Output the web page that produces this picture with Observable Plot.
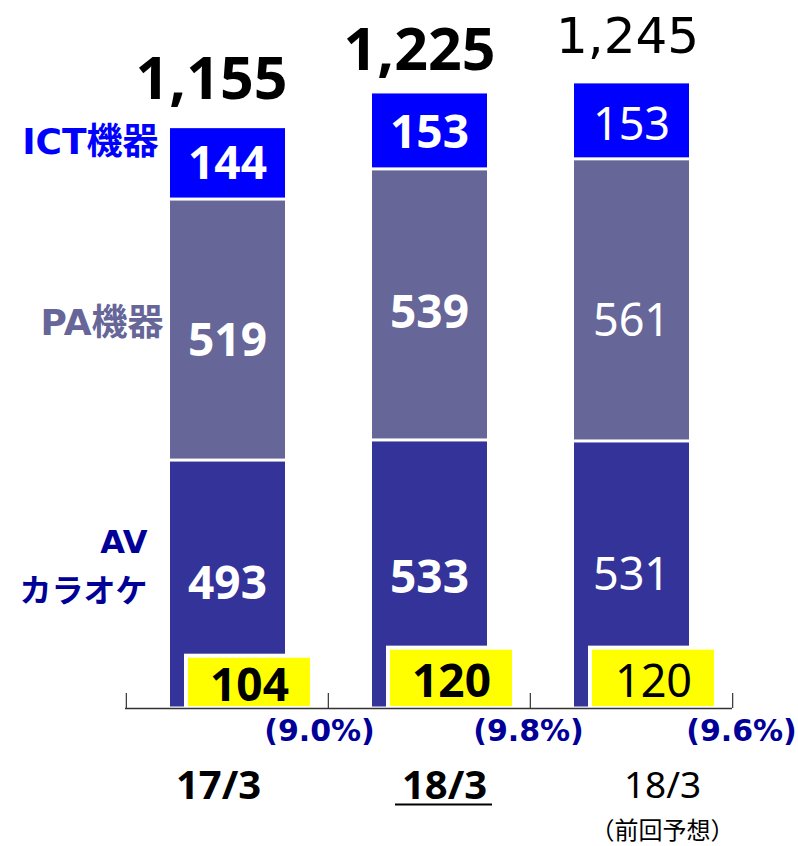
<!DOCTYPE html>
<html><head><meta charset="utf-8">
<script src="https://cdn.jsdelivr.net/npm/d3@7"></script>
<script src="https://cdn.jsdelivr.net/npm/@observablehq/plot@0.6"></script>
<style>body{margin:0;background:#fff}</style>
</head><body><div id="chart"></div>
<script>
// ---- data ----
const periods = ["17/3", "18/3", "18/3 前回予想"];
const periodLabels = ["17/3", "18/3", "18/3"];
const periodNotes = ["", "", "（前回予想）"];
const seriesNames = ["AV\nカラオケ", "PA機器", "ICT機器"];
const avKaraoke = [493, 533, 531];
const paEquip = [519, 539, 561];
const ictEquip = [144, 153, 153];
const totals = [1155, 1225, 1245];
const opProfit = [104, 120, 120];
const opMargin = [9.0, 9.8, 9.6];

// ---- styles (kept apart from data) ----
const seriesColors = ["#333399", "#666699", "#0000ff"];
const labelColors = ["#000099", "#666699", "#0000ff"];
const weights = ["bold", "bold", "normal"];
const FONT = "'Noto Sans', 'Noto Sans CJK JP', sans-serif";
const FONT_W = "'DejaVu Sans', 'Noto Sans CJK JP', sans-serif";

const seriesValues = [avKaraoke, paEquip, ictEquip];
const rows = [];
periods.forEach((p, i) => seriesNames.forEach((s, k) => rows.push({period: p, series: s, value: seriesValues[k][i], idx: i, k})));

// midpoints of stacked segments
const segs = [];
periods.forEach((p, i) => {
  let base = 0;
  seriesNames.forEach((s, k) => {
    const v = seriesValues[k][i];
    segs.push({period: p, idx: i, k, mid: base + v / 2, value: v});
    base += v;
  });
});
const labelNudge = [[0, 11, 1], [4, 8, 2], [1, 21, 5]]; // [bar][series] px

const W = 798, H = 846, ML = 125, MR = 66, MT = 14, MB = 138;
const bw = (W - ML - MR) / periods.length;

const marks = [];
// stacked bars
marks.push(Plot.barY(rows, {x: "period", y: "value", fill: d => seriesColors[d.k],
  insetLeft: 44, insetRight: 43, insetTop: 1.5, insetBottom: 1.5}));
// segment labels
periods.forEach((p, i) => {
  seriesNames.forEach((s, k) => {
    marks.push(Plot.text(segs.filter(d => d.idx === i && d.k === k), {
      x: "period", y: "mid", text: d => String(d.value), fill: "white",
      fontSize: i === 2 ? 45 : 46, fontWeight: weights[i], fontFamily: FONT,
      lineAnchor: "middle", dy: labelNudge[i][k]
    }));
  });
});
// totals
const totalDx = [-16, -10, -4], totalDy = [-29, -22, -29];
const totalFont = [FONT, FONT, FONT_W], totalSize = [59, 59, 50];
periods.forEach((p, i) => {
  marks.push(Plot.text([i], {x: j => periods[j], y: j => totals[j], text: j => d3.format(",")(totals[j]),
    fill: "black", fontSize: totalSize[i], fontWeight: weights[i], fontFamily: totalFont[i],
    lineAnchor: "bottom", dx: totalDx[i], dy: totalDy[i]}));
});
// operating profit boxes
const profitRows = periods.map((p, i) => ({period: p, profit: opProfit[i], idx: i}));
marks.push(Plot.barY(profitRows, {x: "period", y: "profit", fill: "#ffff00", stroke: "white", strokeWidth: 4,
  insetLeft: 60, insetRight: 16}));
periods.forEach((p, i) => {
  marks.push(Plot.text(profitRows.filter(d => d.idx === i), {x: "period", y: d => d.profit / 2, text: d => String(d.profit),
    fill: "black", fontSize: i === 2 ? 45 : 46, fontWeight: weights[i], fontFamily: FONT,
    lineAnchor: "middle", dx: 22, dy: 4}));
});
// axis line and boundary ticks
marks.push(Plot.ruleY([0], {stroke: "#333", strokeWidth: 1.5}));
marks.push(Plot.ruleX(periods, {x: d => d, y1: 0, y2: 30, dx: -bw / 2, stroke: "#333", strokeWidth: 1.2}));
marks.push(Plot.ruleX([periods[periods.length - 1]], {x: d => d, y1: 0, y2: 30, dx: bw / 2, stroke: "#333", strokeWidth: 1.2}));
// margins (%)
const marginDx = [92, 99, 110];
periods.forEach((p, i) => {
  marks.push(Plot.text([i], {x: j => periods[j], y: () => 0, text: j => `(${opMargin[j].toFixed(1)}%)`,
    fill: "#000099", fontSize: 30, fontWeight: "bold", fontFamily: FONT_W,
    lineAnchor: "middle", dx: marginDx[i], dy: 23}));
});
// period labels
const periodDx = [-9, 15, 31];
periods.forEach((p, i) => {
  marks.push(Plot.text([i], {x: j => periods[j], y: () => 0, text: j => periodLabels[j],
    fill: "black", fontSize: i === 2 ? 37 : 40, fontWeight: weights[i], fontFamily: FONT,
    lineAnchor: "middle", dx: periodDx[i], dy: 78}));
  if (periodNotes[i]) {
    marks.push(Plot.text([i], {x: j => periods[j], y: () => 0, text: j => periodNotes[j],
      fill: "black", fontSize: 24, fontFamily: FONT, lineAnchor: "middle", dx: periodDx[i], dy: 123}));
  }
});
// underline for actual 18/3
marks.push(Plot.tickY([periods[1]], {x: d => d, y: () => 0, dy: 96, insetLeft: 67, insetRight: 38, stroke: "black", strokeWidth: 2}));
// series labels on the left (anchored at first bar's segments)
const seriesDx = [-80, -64, -69], seriesDy = [-23, -7, -21];
const seriesSize = [32, 36, 36], seriesLH = [1.53, 1, 1];
seriesNames.forEach((s, k) => {
  marks.push(Plot.text(segs.filter(d => d.idx === 0 && d.k === k), {x: "period", y: "mid", text: () => s,
    fill: labelColors[k], fontSize: seriesSize[k], fontWeight: "bold", fontFamily: FONT_W, textAnchor: "end",
    lineAnchor: "middle", lineHeight: seriesLH[k], dx: seriesDx[k], dy: seriesDy[k]}));
});

const chart = Plot.plot({
  width: W, height: H, marginLeft: ML, marginRight: MR, marginTop: MT, marginBottom: MB,
  x: {domain: periods, padding: 0, axis: null},
  y: {domain: [0, 1380], axis: null},
  style: {background: "white", overflow: "visible"},
  marks
});
document.getElementById("chart").appendChild(chart);
</script>
</body></html>
